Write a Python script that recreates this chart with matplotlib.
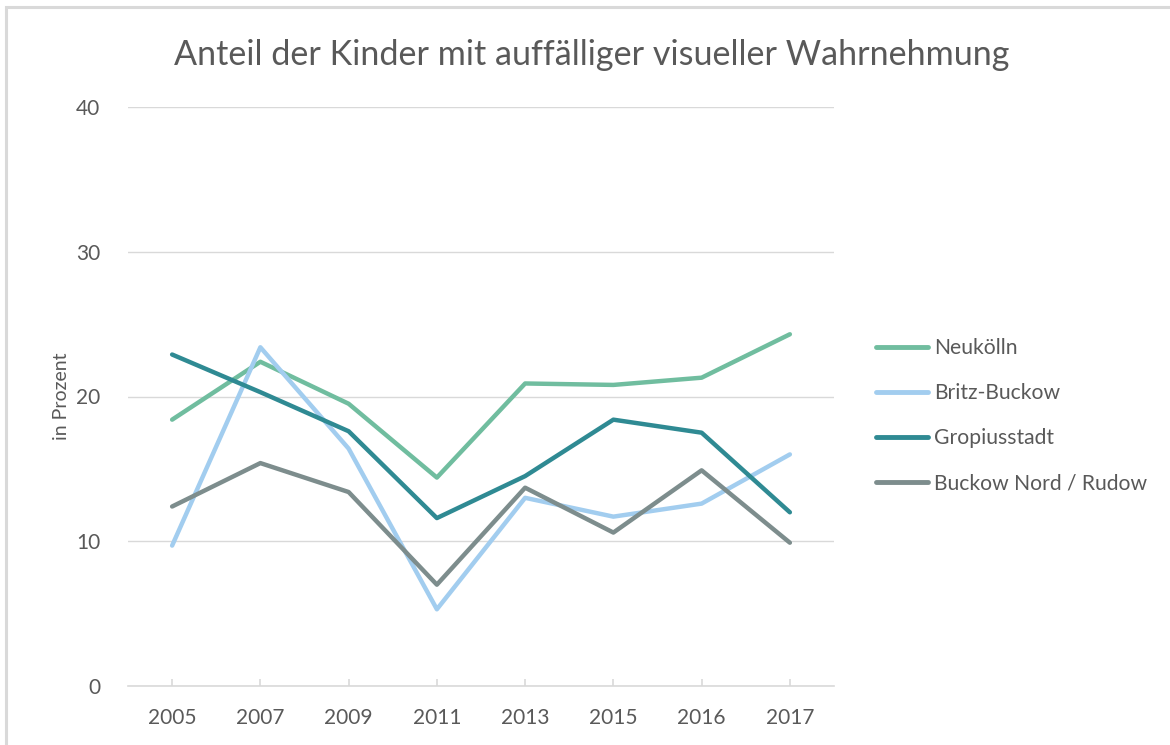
import matplotlib
matplotlib.use("Agg")
import matplotlib.pyplot as plt
from matplotlib.patches import Rectangle

years = ["2005", "2007", "2009", "2011", "2013", "2015", "2016", "2017"]
neukoelln = [18.4, 22.4, 19.5, 14.4, 20.9, 20.8, 21.3, 24.3]
britz_buckow = [9.7, 23.4, 16.4, 5.3, 13.0, 11.7, 12.6, 16.0]
gropiusstadt = [22.9, 20.3, 17.6, 11.6, 14.5, 18.4, 17.5, 12.0]
buckow_rudow = [12.4, 15.4, 13.4, 7.0, 13.7, 10.6, 14.9, 9.9]
series_names = ["Neukölln", "Britz-Buckow", "Gropiusstadt", "Buckow Nord / Rudow"]
colors = ["#70bd9f", "#a2cdef", "#2f8a93", "#7d8d8d"]
yticks = [0, 10, 20, 30, 40]

plt.rcParams['font.family'] = ['Lato', 'DejaVu Sans']

txt = "#595959"
grid = "#d9d9d9"

fig = plt.figure(figsize=(11.7, 7.45), dpi=100)
fig.patches.append(Rectangle((6 / 1170, -0.1), 1.2, (745 - 7) / 745 + 0.1,
                             transform=fig.transFigure, fill=False,
                             edgecolor="#d9d9d9", linewidth=2.2))

ax = fig.add_axes([128 / 1170, 1 - 686 / 745, (834 - 128) / 1170, (686 - 107) / 745])
x = list(range(len(years)))
for vals, name, c in zip([neukoelln, britz_buckow, gropiusstadt, buckow_rudow], series_names, colors):
    ax.plot(x, vals, color=c, linewidth=3.2, label=name,
            solid_capstyle="round", solid_joinstyle="round", zorder=3)

ax.set_xlim(-0.5, len(years) - 0.5)
ax.set_ylim(0, 40)
ax.set_yticks(yticks)
ax.set_yticklabels([str(v) for v in yticks])
ax.set_xticks(x)
ax.set_xticklabels(years)
for s in ["top", "right", "left"]:
    ax.spines[s].set_visible(False)
ax.spines["bottom"].set_color(grid)
ax.spines["bottom"].set_linewidth(1.2)
ax.set_axisbelow(True)
ax.yaxis.grid(True, color=grid, linewidth=1.0)
ax.tick_params(axis="y", length=0, pad=20, labelsize=15, labelcolor=txt)
ax.tick_params(axis="x", direction="in", length=5, color=grid, width=1.2,
               pad=16, labelsize=15, labelcolor=txt)

ax.set_ylabel("in Prozent", fontsize=14, color=txt, labelpad=4)

fig.text(592 / 1170, 1 - 55 / 745, "Anteil der Kinder mit auffälliger visueller Wahrnehmung",
         ha="center", va="center", fontsize=24.6, color=txt)

leg = fig.legend(loc="upper left", bbox_to_anchor=(857 / 1170, 1 - 319 / 745),
                 frameon=False, fontsize=15.2, labelcolor=txt,
                 handlelength=2.45, handletextpad=0.28, labelspacing=1.19)
for h in leg.get_lines():
    h.set_linewidth(3.5)

fig.savefig("out.png", dpi=100)
